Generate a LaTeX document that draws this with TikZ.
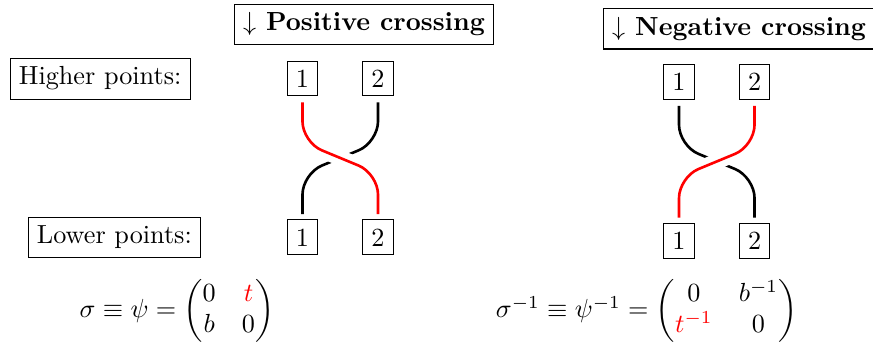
\documentclass[tikz,border=0pt]{standalone}
\usepackage{amsmath,amssymb}
\usepackage{xcolor}
\usepackage{tikz}
\usetikzlibrary{positioning,calc}

\begin{document}
\begin{tikzpicture}[
    box/.style   ={draw, inner sep=3.33pt},
    head/.style  ={box, font=\bfseries},
    pt/.style    ={box},
    strand/.style={line width=1pt, rounded corners=8pt,
                   shorten <=2.2pt, shorten >=2pt},
    over/.style  ={strand, red, preaction={draw, white, line width=6pt,
                   shorten <=2.2pt, shorten >=2pt}}
]
\useasboundingbox (0,0) rectangle (11.718,-4.658);
% --- positive crossing ------------------------------------------------
\node[head] (hpos) at (4.885,-0.329) {$\downarrow$ Positive crossing};
\node[pt]                       (p1t) at (4.06,-1.054) {1};
\node[pt, right=0.59cm of p1t]  (p2t) {2};
\node[pt, below=1.65cm of p1t]  (p1b) {1};
\node[pt, right=0.59cm of p1b]  (p2b) {2};
\node[box, left=1.29cm of p1t]  (hi)  {Higher points:};
\node[box, left=1.15cm of p1b]  (lo)  {Lower points:};
\coordinate (xp) at ($(p1t)!0.5!(p2b)$);
% --- negative crossing ------------------------------------------------
\node[head] (hneg) at (9.92,-0.383) {$\downarrow$ Negative crossing};
\node[pt]                       (n1t) at (9.114,-1.101) {1};
\node[pt, right=0.59cm of n1t]  (n2t) {2};
\node[pt, below=1.65cm of n1t]  (n1b) {1};
\node[pt, right=0.59cm of n1b]  (n2b) {2};
\coordinate (xn) at ($(n1t)!0.5!(n2b)$);
% --- strands ----------------------------------------------------------
\draw[strand] (p2t.south) -- ($(p2t |- xp)+(0,0.21)$)
              -- ($(p1b |- xp)-(0,0.21)$) -- (p1b.north);
\draw[over]   (p1t.south) -- ($(p1t |- xp)+(0,0.21)$)
              -- ($(p2b |- xp)-(0,0.21)$) -- (p2b.north);
\draw[strand] (n1t.south) -- ($(n1t |- xn)+(0,0.21)$)
              -- ($(n2b |- xn)-(0,0.21)$) -- (n2b.north);
\draw[over]   (n2t.south) -- ($(n2t |- xn)+(0,0.21)$)
              -- ($(n1b |- xn)-(0,0.21)$) -- (n1b.north);
% --- matrices ---------------------------------------------------------
\node (mpos) at (2.376,-4.174)
    {$\sigma \equiv \psi = \begin{pmatrix} 0 & \textcolor{red}{t} \\ b & 0 \end{pmatrix}$};
\node (mneg) at (8.68,-4.174)
    {$\sigma^{-1} \equiv \psi^{-1} = \begin{pmatrix} 0 & b^{-1} \\ \textcolor{red}{t^{-1}} & 0 \end{pmatrix}$};
\end{tikzpicture}
\end{document}
